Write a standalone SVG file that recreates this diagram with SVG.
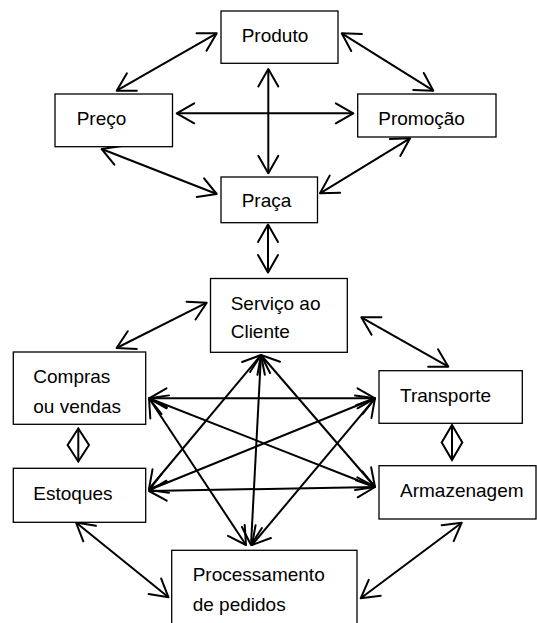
<svg xmlns="http://www.w3.org/2000/svg" width="537" height="623" viewBox="0 0 537 623">
  <style>
    .box { fill: #fff; stroke: #000; stroke-width: 1.3; }
    .lbl { font-family: "Liberation Sans", Arial, sans-serif; font-size: 19px; fill: #000; }
    .con { stroke: #000; stroke-width: 2; fill: none; marker-start: url(#ah); marker-end: url(#ah); }
    .dia { stroke: #000; stroke-width: 2; fill: #fff; stroke-linejoin: miter; }
  </style>
  <defs>
    <!-- open V arrowhead, used at both ends of each connector -->
    <marker id="ah" viewBox="-20 -12 22 24" markerWidth="22" markerHeight="24" refX="0" refY="0" orient="auto-start-reverse" markerUnits="userSpaceOnUse" overflow="visible">
      <path d="M-17.5 -10 L0 0 L-17.5 10" fill="none" stroke="#000" stroke-width="2" stroke-linejoin="round" stroke-linecap="round"/>
    </marker>
  </defs>
  <rect width="537" height="623" fill="#fff"/>

  <!-- connectors -->
  <g id="connectors">
    <line class="con" x1="216.7" y1="33.3" x2="116.7" y2="90.7"/>
    <line class="con" x1="341.7" y1="33.3" x2="433.3" y2="90.7"/>
    <line class="con" x1="268.3" y1="69" x2="268.3" y2="173.3"/>
    <line class="con" x1="176.7" y1="113.3" x2="353.3" y2="113.3"/>
    <line class="con" x1="101.7" y1="149" x2="216.7" y2="194"/>
    <line class="con" x1="410" y1="138.3" x2="320" y2="193.3"/>
    <line class="con" x1="268" y1="224.5" x2="268" y2="272.5"/>
    <line class="con" x1="206.7" y1="302.7" x2="116.6" y2="348"/>
    <line class="con" x1="361.3" y1="317.3" x2="448.3" y2="366.7"/>
    <!-- logistics network -->
    <line class="con" x1="261" y1="355" x2="149" y2="489"/>
    <line class="con" x1="261" y1="355" x2="251" y2="545"/>
    <line class="con" x1="261" y1="355" x2="375" y2="487"/>
    <line class="con" x1="149" y1="398.3" x2="375" y2="398.3"/>
    <line class="con" x1="149" y1="398.3" x2="375" y2="487"/>
    <line class="con" x1="149" y1="398.3" x2="246" y2="545"/>
    <line class="con" x1="375" y1="398.3" x2="149" y2="490"/>
    <line class="con" x1="375" y1="398.3" x2="252" y2="545"/>
    <line class="con" x1="149" y1="491" x2="375" y2="487"/>
    <line class="con" x1="76" y1="522.5" x2="168.5" y2="597.3"/>
    <line class="con" x1="461.7" y1="522.7" x2="360.7" y2="598.3"/>
    <!-- two-way links between stacked boxes -->
    <polygon class="dia" points="78.3,428.5 89,445 78.3,461.5 67.6,445"/>
    <line x1="78.3" y1="428.5" x2="78.3" y2="461.5" stroke="#000" stroke-width="2"/>
    <polygon class="dia" points="452,425 462.3,442.5 452,460 441.7,442.5"/>
    <line x1="452" y1="425" x2="452" y2="460" stroke="#000" stroke-width="2"/>
  </g>

  <g id="produto">
    <rect class="box" x="221" y="11" width="117" height="52.3"/>
    <text class="lbl" x="241.7" y="42.3">Produto</text>
  </g>
  <g id="preco">
    <rect class="box" x="55" y="94" width="117.5" height="52.7"/>
    <text class="lbl" x="76.7" y="125">Preço</text>
  </g>
  <g id="promocao">
    <rect class="box" x="357.7" y="94" width="138.3" height="43"/>
    <text class="lbl" x="378.3" y="125">Promoção</text>
  </g>
  <g id="praca">
    <rect class="box" x="221" y="177" width="96.5" height="45.7"/>
    <text class="lbl" x="241.7" y="207.3">Praça</text>
  </g>
  <g id="servico">
    <rect class="box" x="210.5" y="278.5" width="136.8" height="73.8"/>
    <text class="lbl" x="230.7" y="310">Serviço ao</text>
    <text class="lbl" x="230.7" y="338.3">Cliente</text>
  </g>
  <g id="compras">
    <rect class="box" x="13.3" y="352" width="132.4" height="72.3"/>
    <text class="lbl" x="33.3" y="383.3">Compras</text>
    <text class="lbl" x="33.3" y="412.7">ou vendas</text>
  </g>
  <g id="transporte">
    <rect class="box" x="379" y="370.7" width="143.3" height="52.6"/>
    <text class="lbl" x="400" y="401.7">Transporte</text>
  </g>
  <g id="estoques">
    <rect class="box" x="13.3" y="468.3" width="132.4" height="54"/>
    <text class="lbl" x="33.3" y="500">Estoques</text>
  </g>
  <g id="armazenagem">
    <rect class="box" x="379" y="465.7" width="157" height="53.3"/>
    <text class="lbl" x="400" y="496.7">Armazenagem</text>
  </g>
  <g id="processamento">
    <rect class="box" x="171.7" y="550.3" width="185.3" height="80"/>
    <text class="lbl" x="192.7" y="581">Processamento</text>
    <text class="lbl" x="192.7" y="610.7">de pedidos</text>
  </g>
</svg>
